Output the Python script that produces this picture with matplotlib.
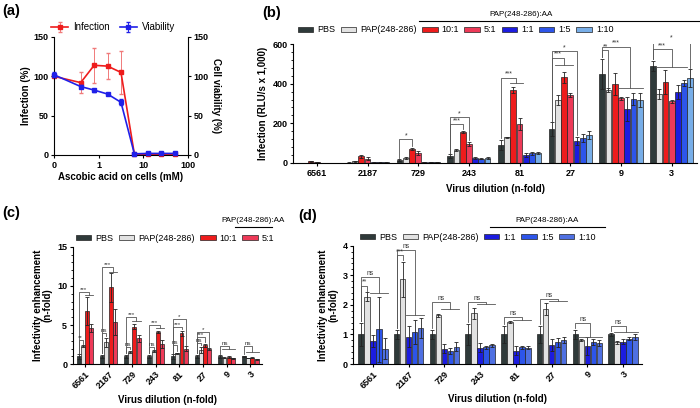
import matplotlib.pyplot as plt
import numpy as np
from matplotlib.lines import Line2D
from matplotlib.patches import Patch
from matplotlib.ticker import MultipleLocator, NullLocator

plt.rcParams["font.family"] = ["Liberation Sans", "DejaVu Sans"]

W, H = 700, 408

# ---------------- panel (a): ascorbic acid on cells ----------------
aa_conc = [0, 0.39, 0.78, 1.56, 3.125, 6.25, 12.5, 25, 50]
infection = [100, 92, 114, 113, 105, 1, 1, 1, 1]
infection_err = [1, 13, 22, 17, 27, 1, 1, 1, 1]
viability = [102, 87, 82.5, 77.5, 67, 1.5, 2, 2, 2]
viability_err = [3, 2, 2, 1.5, 4, 1, 1, 1, 1]

dilutions = ["6561", "2187", "729", "243", "81", "27", "9", "3"]

# ---------------- panel (b): RLU/s x 1,000 ----------------
b_labels = ["PBS", "PAP(248-286)", "10:1", "5:1", "1:1", "1:5", "1:10"]
b_pbs = [1, 2, 14, 35, 91, 170, 449, 490]
b_pbs_err = [0.5, 1, 5, 8, 25, 35, 75, 25]
b_pap = [1, 8, 25, 65, 129, 316, 368, 346]
b_pap_err = [0.5, 2, 3, 5, 4, 25, 8, 25]
b_r10 = [9, 34, 72, 158, 368, 432, 400, 407]
b_r10_err = [3, 8, 5, 5, 15, 28, 55, 60]
b_r5 = [5, 22, 48, 96, 196, 343, 326, 311]
b_r5_err = [2, 6, 10, 12, 30, 12, 8, 8]
b_r1 = [1, 3, 6, 23, 40, 111, 274, 356]
b_r1_err = [0.5, 1, 1, 5, 10, 20, 60, 35]
b_r1_5 = [1, 3, 5, 22, 49, 126, 321, 405]
b_r1_5_err = [0.5, 1, 1, 4, 8, 20, 30, 15]
b_r1_10 = [1, 3, 5, 25, 49, 141, 316, 427]
b_r1_10_err = [0.5, 1, 1, 4, 6, 20, 35, 45]
# (group, compared bar, bracket height, label, comb (first bar, last bar, height))
b_sig = [
    (2, 2, 120, "*", None),
    (3, 2, 196, "***", None),
    (3, 3, 232, "*", None),
    (4, None, 430, "***", (2, 3, 403)),
    (5, None, 530, "***", (1, 3, 494)),
    (5, 4, 565, "*", None),
    (6, 1, 570, "**", None),
    (6, None, 586, "***", (3, 6, 380)),
    (7, None, 575, "***", (1, 5, 486)),
    (7, 6, 611, "*", None),
]

# ---------------- panel (c): enhancement, AA excess ----------------
c_labels = ["PBS", "PAP(248-286)", "10:1", "5:1"]
c_pbs = [1, 1, 1, 1, 1, 1, 1, 1]
c_pbs_err = [0.3, 0.2, 0.2, 0.25, 0.3, 0.25, 0.15, 0.1]
c_pap = [2.3, 2.8, 1.6, 1.7, 1.4, 1.8, 0.85, 0.8]
c_pap_err = [0.15, 0.6, 0.1, 0.1, 0.05, 0.4, 0.05, 0.05]
c_r10 = [6.8, 9.8, 4.8, 4.1, 3.95, 2.45, 0.9, 0.85]
c_r10_err = [1.8, 1.8, 0.3, 0.1, 0.3, 0.2, 0.1, 0.1]
c_r5 = [4.6, 5.4, 3.3, 2.6, 2.0, 1.95, 0.75, 0.65]
c_r5_err = [0.5, 1.6, 0.5, 0.5, 0.3, 0.1, 0.05, 0.05]
c_sig = [
    (0, 1, 3.1, "**", None),
    (0, None, 9.25, "***", (2, 3, 8.8)),
    (1, 1, 4.0, "ns", None),
    (1, None, 12.35, "***", (2, 3, 11.8)),
    (2, 1, 2.2, "ns", None),
    (2, None, 6.0, "***", (2, 3, 5.5)),
    (3, 1, 2.2, "ns", None),
    (3, None, 5.0, "***", (2, 3, 4.6)),
    (4, 1, 2.4, "ns", None),
    (4, 2, 4.8, "***", None),
    (4, 3, 5.8, "*", None),
    (5, 1, 2.75, "ns", None),
    (5, 2, 3.5, "***", None),
    (5, 3, 4.15, "*", None),
    (6, None, 2.37, "ns", (1, 3, 1.9)),
    (7, None, 2.37, "ns", (1, 3, 1.6)),
]

# ---------------- panel (d): enhancement, AA in excess of peptide ----------------
d_labels = ["PBS", "PAP(248-286)", "1:1", "1:5", "1:10"]
d_pbs = [1, 1, 1, 1, 1, 1, 1, 1]
d_pbs_err = [0.4, 0.15, 0.15, 0.35, 0.3, 0.3, 0.15, 0.05]
d_pap = [2.27, 2.86, 1.64, 1.71, 1.42, 1.85, 0.81, 0.74]
d_pap_err = [0.15, 0.6, 0.05, 0.2, 0.05, 0.2, 0.03, 0.05]
d_r1 = [0.78, 0.92, 0.52, 0.55, 0.45, 0.63, 0.6, 0.76]
d_r1_err = [0.2, 0.35, 0.15, 0.15, 0.15, 0.2, 0.3, 0.1]
d_r1_5 = [1.17, 1.09, 0.44, 0.57, 0.57, 0.73, 0.74, 0.85]
d_r1_5_err = [1.1, 0.4, 0.1, 0.05, 0.05, 0.15, 0.1, 0.05]
d_r1_10 = [0.52, 1.22, 0.58, 0.64, 0.55, 0.82, 0.72, 0.9]
d_r1_10_err = [0.35, 0.35, 0.15, 0.05, 0.05, 0.1, 0.1, 0.1]
d_sig = [
    (0, 1, 2.65, "**", None),
    (0, None, 2.95, "ns", (2, 4, 2.4)),
    (1, 1, 3.68, "***", None),
    (1, None, 3.85, "ns", (2, 4, 1.65)),
    (2, None, 2.08, "ns", (2, 4, 1.86)),
    (3, None, 2.08, "ns", (2, 4, 2.03)),
    (4, None, 1.6, "ns", (2, 4, 1.5)),
    (5, None, 2.2, "ns", (2, 4, 2.13)),
    (6, None, 1.37, "ns", (1, 4, 0.92)),
    (7, None, 1.3, "ns", (1, 4, 1.09)),
]

COLORS = {
    "PBS": "#2f3a3a",
    "PAP(248-286)": "#e2e2e2",
    "10:1": "#ee1c1c",
    "5:1": "#ee3a58",
    "1:1": "#1c1ce0",
    "1:5": "#2d55ea",
    "1:10": "#78aee8",
}
D_COLORS = dict(COLORS, **{"1:10": "#4f70e2"})
RED = "#ee1c1c"
BLUE = "#2020e8"
FS = 6.5


def fig_box(left, top, right, bottom):
    return [left / W, 1 - bottom / H, (right - left) / W, (bottom - top) / H]


def style_axis(ax):
    ax.spines["top"].set_visible(False)
    ax.spines["right"].set_visible(False)
    for s in ax.spines.values():
        s.set_linewidth(0.8)
    ax.tick_params(labelsize=FS, width=0.8, length=2.5, pad=1.5)
    ax.tick_params(which="minor", width=0.6, length=1.5)


def set_ticks(ax, axis, ticks, labels, **kw):
    if axis == "x":
        ax.set_xticks(ticks, labels, fontweight="bold", fontsize=FS, **kw)
    else:
        ax.set_yticks(ticks, labels, fontweight="bold", fontsize=FS, **kw)


def draw_groups(ax, series, errs, colors, step):
    x = np.arange(len(dilutions))
    offs = (np.arange(len(series)) - (len(series) - 1) / 2) * step
    for vals, err, col, off in zip(series, errs, colors, offs):
        ax.bar(x + off, vals, step * 0.92, color=col, edgecolor="#222222",
               linewidth=0.5, yerr=err, zorder=2,
               error_kw=dict(ecolor="#222222", elinewidth=0.6, capsize=1.2, capthick=0.6))
    tops = [np.add(v, e) for v, e in zip(series, errs)]
    return offs, tops


def draw_sig(ax, offs, tops, notes, step, pad, fs):
    for g, right, y, text, comb in notes:
        xl = g + offs[0]
        if comb:
            c0, c1, yc = comb
            xr = g + (offs[c0] + offs[c1]) / 2
            ax.plot([g + offs[c0] - step / 2, g + offs[c1] + step / 2], [yc, yc],
                    color="#555555", lw=0.6, zorder=3)
            yend = yc
        else:
            xr = g + offs[right]
            yend = tops[right][g] + pad
        ax.plot([xl, xl, xr, xr], [tops[0][g] + pad, y, y, yend],
                color="#555555", lw=0.6, zorder=3)
        ax.text((xl + xr) / 2, y, text, ha="center", va="bottom", fontsize=fs,
                color="#333333", zorder=4)


def legend_row(fig, labels, colors, x, y, line_x0, line_x1, line_y, text_x, text_y):
    handles = [Patch(facecolor=colors[l], edgecolor="#222222", linewidth=0.5) for l in labels]
    fig.legend(handles, labels, loc="center left", bbox_to_anchor=(x / W, 1 - y / H),
               ncol=len(labels), frameon=False, fontsize=FS, handlelength=1.7,
               handleheight=0.5, handletextpad=0.45, columnspacing=0.6,
               borderpad=0, borderaxespad=0)
    fig.add_artist(Line2D([line_x0 / W, line_x1 / W], [1 - line_y / H] * 2,
                          color="black", lw=0.8))
    fig.text(text_x / W, 1 - text_y / H, "PAP(248-286):AA", ha="center",
             va="center", fontsize=5.8)


fig = plt.figure(figsize=(7, 4.08), dpi=100)

# ---- (a) ----
ax_a = fig.add_axes(fig_box(54, 37, 188, 155))
ax_a.set_xscale("symlog", linthresh=0.39, linscale=0.54)
ax_a.errorbar(aa_conc, infection, yerr=infection_err, color=RED, ecolor="#f07a7a",
              marker="s", ms=2.8, lw=1.2, capsize=1.5, elinewidth=0.7, clip_on=False,
              label="Infection")
ax_a.set_xlim(0, 100)
ax_a.set_ylim(0, 150)
style_axis(ax_a)
set_ticks(ax_a, "x", [0, 1, 10, 100], ["0", "1", "10", "100"])
ax_a.xaxis.set_minor_locator(NullLocator())
set_ticks(ax_a, "y", [0, 50, 100, 150], ["0", "50", "100", "150"])
ax_a.set_ylabel("Infection (%)", fontsize=7, fontweight="bold", labelpad=2)
ax_a.set_xlabel("Ascobic acid on cells (mM)", fontsize=7, fontweight="bold", labelpad=2)

ax_v = ax_a.twinx()
ax_v.errorbar(aa_conc, viability, yerr=viability_err, color=BLUE, ecolor=BLUE,
              marker="s", ms=2.8, lw=1.2, capsize=1.5, elinewidth=0.7, clip_on=False,
              label="Viability")
ax_v.set_ylim(0, 150)
for s in ["top", "left", "bottom"]:
    ax_v.spines[s].set_visible(False)
ax_v.spines["right"].set_linewidth(0.8)
ax_v.tick_params(labelsize=FS, width=0.8, length=2.5, pad=1.5)
set_ticks(ax_v, "y", [0, 50, 100, 150], ["0", "50", "100", "150"])
ax_v.set_ylabel("Cell viability (%)", fontsize=7, fontweight="bold", rotation=270,
                labelpad=9)
h1, l1 = ax_a.get_legend_handles_labels()
h2, l2 = ax_v.get_legend_handles_labels()
ax_a.legend(h1 + h2, l1 + l2, loc="lower center", bbox_to_anchor=(0.44, 1.04), ncol=2,
            frameon=False, fontsize=7, handlelength=1.8, handletextpad=0.5,
            columnspacing=1.0, borderpad=0, borderaxespad=0)

# ---- (b) ----
ax_b = fig.add_axes(fig_box(293, 44, 697, 163))
b_series = [b_pbs, b_pap, b_r10, b_r5, b_r1, b_r1_5, b_r1_10]
b_errs = [b_pbs_err, b_pap_err, b_r10_err, b_r5_err, b_r1_err, b_r1_5_err, b_r1_10_err]
step_b = 0.123
offs_b, tops_b = draw_groups(ax_b, b_series, b_errs, [COLORS[l] for l in b_labels], step_b)
draw_sig(ax_b, offs_b, tops_b, b_sig, step_b, 8, 5)
ax_b.set_xlim(-0.47, 7.5)
ax_b.set_ylim(0, 600)
style_axis(ax_b)
set_ticks(ax_b, "x", range(len(dilutions)), dilutions)
set_ticks(ax_b, "y", [0, 200, 400, 600], ["0", "200", "400", "600"])
ax_b.yaxis.set_minor_locator(MultipleLocator(40))
ax_b.set_ylabel("Infection (RLU/s x 1,000)", fontsize=7, fontweight="bold", labelpad=3)
ax_b.set_xlabel("Virus dilution (n-fold)", fontsize=7, fontweight="bold", labelpad=5)
legend_row(fig, b_labels, COLORS, 298, 30, 419, 700, 21, 521, 14)

# ---- (c) ----
ax_c = fig.add_axes(fig_box(72.7, 246.7, 262, 364.3))
c_series = [c_pbs, c_pap, c_r10, c_r5]
c_errs = [c_pbs_err, c_pap_err, c_r10_err, c_r5_err]
step_c = 0.18
offs_c, tops_c = draw_groups(ax_c, c_series, c_errs, [COLORS[l] for l in c_labels], step_c)
draw_sig(ax_c, offs_c, tops_c, c_sig, step_c, 0.2, 4.5)
ax_c.set_xlim(-0.52, 7.5)
ax_c.set_ylim(0, 15)
style_axis(ax_c)
set_ticks(ax_c, "x", range(len(dilutions)), dilutions, rotation=45, ha="right",
          rotation_mode="anchor")
set_ticks(ax_c, "y", [0, 5, 10, 15], ["0", "5", "10", "15"])
ax_c.yaxis.set_minor_locator(MultipleLocator(1))
ax_c.set_ylabel("Infectivity enhancement\n(n-fold)", fontsize=7, fontweight="bold",
                labelpad=3, linespacing=1.0)
ax_c.set_xlabel("Virus dilution (n-fold)", fontsize=7, fontweight="bold", labelpad=3)
legend_row(fig, c_labels, COLORS, 76, 238, 235, 272, 227, 253, 220)

# ---- (d) ----
ax_d = fig.add_axes(fig_box(353, 245.7, 642, 364))
d_series = [d_pbs, d_pap, d_r1, d_r1_5, d_r1_10]
d_errs = [d_pbs_err, d_pap_err, d_r1_err, d_r1_5_err, d_r1_10_err]
step_d = 0.168
offs_d, tops_d = draw_groups(ax_d, d_series, d_errs, [D_COLORS[l] for l in d_labels], step_d)
draw_sig(ax_d, offs_d, tops_d, d_sig, step_d, 0.06, 4.8)
ax_d.set_xlim(-0.56, 7.53)
ax_d.set_ylim(0, 4)
style_axis(ax_d)
set_ticks(ax_d, "x", range(len(dilutions)), dilutions, rotation=45, ha="right",
          rotation_mode="anchor")
set_ticks(ax_d, "y", [0, 1, 2, 3, 4], ["0", "1", "2", "3", "4"])
ax_d.yaxis.set_minor_locator(MultipleLocator(0.2))
ax_d.set_ylabel("Infectivity enhancement\n(n-fold)", fontsize=7, fontweight="bold",
                labelpad=3, linespacing=1.0)
ax_d.set_xlabel("Virus dilution (n-fold)", fontsize=7, fontweight="bold", labelpad=3)
legend_row(fig, d_labels, D_COLORS, 360, 237, 490, 605, 227, 547, 221)

# ---- panel letters ----
for letter, px, py in [("(a)", 2, 11), ("(b)", 262, 13), ("(c)", 2, 213), ("(d)", 298, 216)]:
    fig.text(px / W, 1 - py / H, letter, fontsize=10.5, fontweight="bold", va="center")

fig.savefig("out.png", dpi=100)
